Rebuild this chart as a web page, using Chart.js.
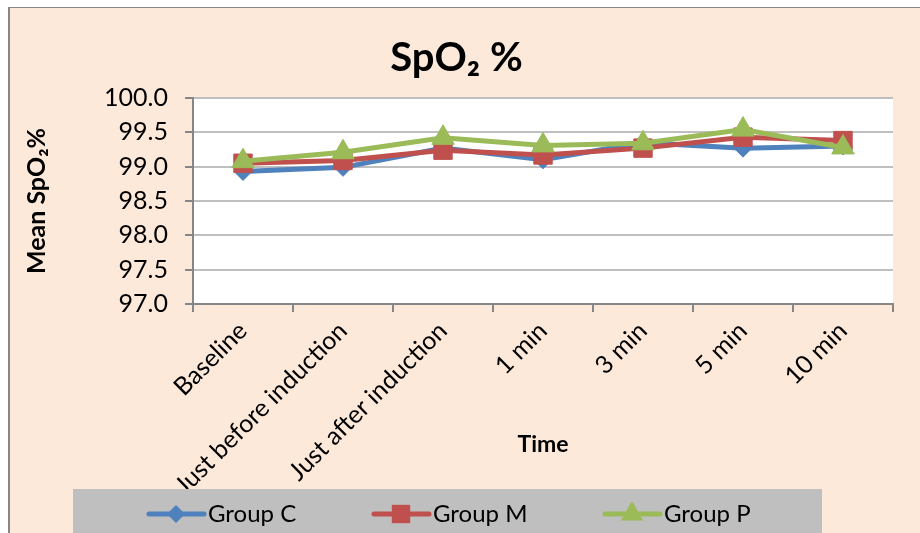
<!DOCTYPE html>
<html>
<head>
<meta charset="utf-8">
<script src="https://cdn.jsdelivr.net/npm/chart.js@4.4.1/dist/chart.umd.min.js"></script>
<style>
  body { margin: 0; background: #fff; }
  canvas { display: block; }
</style>
</head>
<body>
<canvas id="chart" width="920" height="533"></canvas>
<script>
// time points on the x axis
const categories = ['Baseline', 'Just before induction', 'Just after induction', '1 min', '3 min', '5 min', '10 min'];
const yTicks = [97.0, 97.5, 98.0, 98.5, 99.0, 99.5, 100.0];

// mean SpO2 per group
const groupC = [98.93, 98.99, 99.27, 99.10, 99.35, 99.27, 99.30];
const groupM = [99.05, 99.09, 99.24, 99.17, 99.27, 99.43, 99.38];
const groupP = [99.08, 99.21, 99.42, 99.31, 99.34, 99.54, 99.28];

const FONT = 'Lato, "Liberation Sans", sans-serif';
const BLUE = '#4F81BD', RED = '#C0504D', GREEN = '#9BBB59';

// draw one marker (used by the legend)
function marker(ctx, style, x, y, r, color) {
  ctx.save();
  ctx.fillStyle = color;
  ctx.beginPath();
  if (style === 'rectRot') {
    ctx.moveTo(x, y - r); ctx.lineTo(x + r, y); ctx.lineTo(x, y + r); ctx.lineTo(x - r, y);
  } else if (style === 'rect') {
    const s = r * Math.SQRT1_2;
    ctx.rect(x - s, y - s, 2 * s, 2 * s);
  } else {
    for (let k = 0; k < 3; k++) {
      const a = k * 2 * Math.PI / 3;
      const px = x + Math.sin(a) * r, py = y - Math.cos(a) * r;
      k ? ctx.lineTo(px, py) : ctx.moveTo(px, py);
    }
  }
  ctx.closePath();
  ctx.fill();
  ctx.restore();
}

const frame = {
  id: 'frame',
  beforeDraw(chart) {
    const { ctx, chartArea: a } = chart;
    ctx.save();
    ctx.fillStyle = '#FDE9D9';
    ctx.fillRect(8, 7, chart.width - 8, chart.height - 7);
    ctx.fillStyle = '#868686';
    ctx.fillRect(8, 7, 2, chart.height - 7);
    ctx.fillRect(8, 7, chart.width - 8, 1);
    ctx.fillStyle = '#fff';
    ctx.fillRect(a.left, a.top, a.right - a.left, a.bottom - a.top);
    ctx.restore();
  },
  afterDraw(chart) {
    // legend box, drawn last so it covers the long x labels like the original
    const ctx = chart.ctx;
    ctx.save();
    ctx.fillStyle = '#BFBFBF';
    ctx.fillRect(73, 489, 749, 50);
    const slots = [149, 374, 605];
    const cy = 514;
    chart.data.datasets.forEach((ds, i) => {
      const x0 = slots[i];
      ctx.strokeStyle = ds.borderColor;
      ctx.lineWidth = 5;
      ctx.lineCap = 'round';
      ctx.beginPath();
      ctx.moveTo(x0, cy); ctx.lineTo(x0 + 55, cy);
      ctx.stroke();
      marker(ctx, ds.pointStyle, x0 + 27, cy, ds.pointRadius, ds.borderColor);
      ctx.fillStyle = '#000';
      ctx.font = '24px ' + FONT;
      ctx.textBaseline = 'middle';
      ctx.fillText(ds.label, x0 + 59, cy);
    });
    ctx.restore();
  }
};

const ds = (label, data, color, style, r, order) => ({
  label, data, order,
  borderColor: color, backgroundColor: color,
  borderWidth: 5,
  pointStyle: style, pointRadius: r, pointHoverRadius: r,
  pointBackgroundColor: color, pointBorderColor: color, pointBorderWidth: 1
});

new Chart(document.getElementById('chart'), {
  type: 'line',
  data: {
    labels: categories,
    datasets: [
      ds('Group C', groupC, BLUE, 'rectRot', 9, 3),
      ds('Group M', groupM, RED, 'rect', 13, 2),
      ds('Group P', groupP, GREEN, 'triangle', 13, 1)
    ]
  },
  options: {
    responsive: false,
    animation: false,
    devicePixelRatio: 1,
    layout: { padding: { left: 20, right: 27, top: 0, bottom: 0 } },
    plugins: {
      legend: { display: false },
      tooltip: { enabled: false },
      title: {
        display: true,
        text: 'SpO₂ %',
        color: '#000',
        font: { family: FONT, size: 40, weight: 'bold' },
        padding: { top: 34, bottom: 16 }
      }
    },
    scales: {
      x: {
        offset: true,
        grid: { offset: true, drawOnChartArea: false, drawTicks: true, tickLength: 8, color: '#868686', lineWidth: 2 },
        border: { color: '#868686', width: 2 },
        ticks: {
          autoSkip: false, minRotation: 45, maxRotation: 45,
          color: '#000', font: { family: FONT, size: 25 }, padding: 4
        },
        title: {
          display: true, text: 'Time', color: '#000',
          font: { family: FONT, size: 23, weight: 'bold' },
          padding: { top: 0, bottom: 75 }
        },
        afterFit: s => { s.height = 229; }
      },
      y: {
        min: 97, max: 100,
        afterBuildTicks: s => { s.ticks = yTicks.map(v => ({ value: v })); },
        ticks: {
          callback: v => v.toFixed(1),
          color: '#000', font: { family: FONT, size: 25 }, padding: 17
        },
        grid: { color: '#BFBFBF', lineWidth: 2, tickColor: '#868686', tickLength: 8 },
        border: { color: '#868686', width: 2 },
        title: {
          display: true, text: 'Mean SpO₂%', color: '#000',
          font: { family: FONT, size: 25, weight: 'bold' },
          padding: { top: 2, bottom: 0 }
        },
        afterFit: s => { s.width = 173; }
      }
    }
  },
  plugins: [frame]
});
</script>
</body>
</html>
